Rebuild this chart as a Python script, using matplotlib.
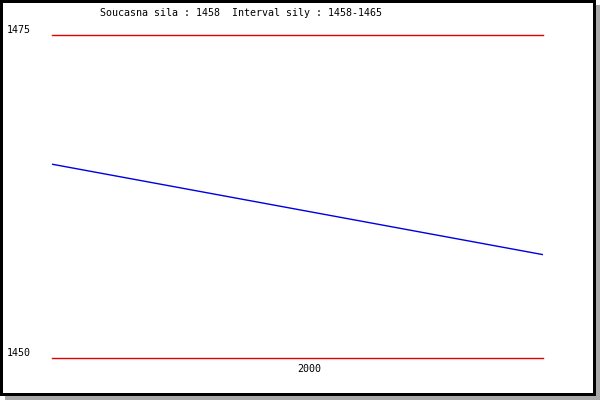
import matplotlib
matplotlib.use('Agg')
import matplotlib.pyplot as plt
import matplotlib.patches as mpatches
import matplotlib.transforms as mtrans

# data
x_vals = [0, 1]
sila = [1465, 1458]
y_ticks = [1450, 1475]
x_tick_label = '2000'
title = 'Soucasna sila : 1458  Interval sily : 1458-1465'

plt.rcParams['font.family'] = 'DejaVu Sans Mono'
fs = 7.2

fig = plt.figure(figsize=(6, 4), dpi=100)
W, H = 600, 400

# frame with drop shadow (pixel coords, top-left origin converted)
def box(x0, y0, x1, y1, color):
    fig.patches.append(mpatches.Rectangle((x0 / W, 1 - y1 / H), (x1 - x0) / W, (y1 - y0) / H,
                                          transform=fig.transFigure, color=color, zorder=-5, lw=0))

box(5, 5, 600, 400, '#a8a8a8')
box(0, 0, 596, 396, 'black')
box(3, 3, 593, 393, 'white')

ax = fig.add_axes([52 / W, 1 - 358 / H, (543 - 52) / W, (358 - 35) / H])
ax.set_facecolor('none')
ax.set_xlim(x_vals[0], x_vals[-1])
ax.set_ylim(y_ticks[0], y_ticks[-1])
for s in ax.spines.values():
    s.set_visible(False)
ax.set_xticks([])
ax.set_yticks([])

for yt in y_ticks:
    ax.axhline(yt, color='#e00000', lw=1.0, clip_on=False)
    tr = mtrans.blended_transform_factory(fig.transFigure, ax.transData)
    ax.text(7 / W, yt, str(yt), transform=tr, fontsize=fs, ha='left', va='bottom')

ax.plot(x_vals, sila, color='#0000e0', lw=1.0)

ax.text(0.5, -0.02, x_tick_label, transform=ax.transAxes, fontsize=fs, ha='left', va='top')
fig.text(100 / W, 1 - 8 / H, title, fontsize=fs, ha='left', va='top')

fig.savefig('out.png', dpi=100)
